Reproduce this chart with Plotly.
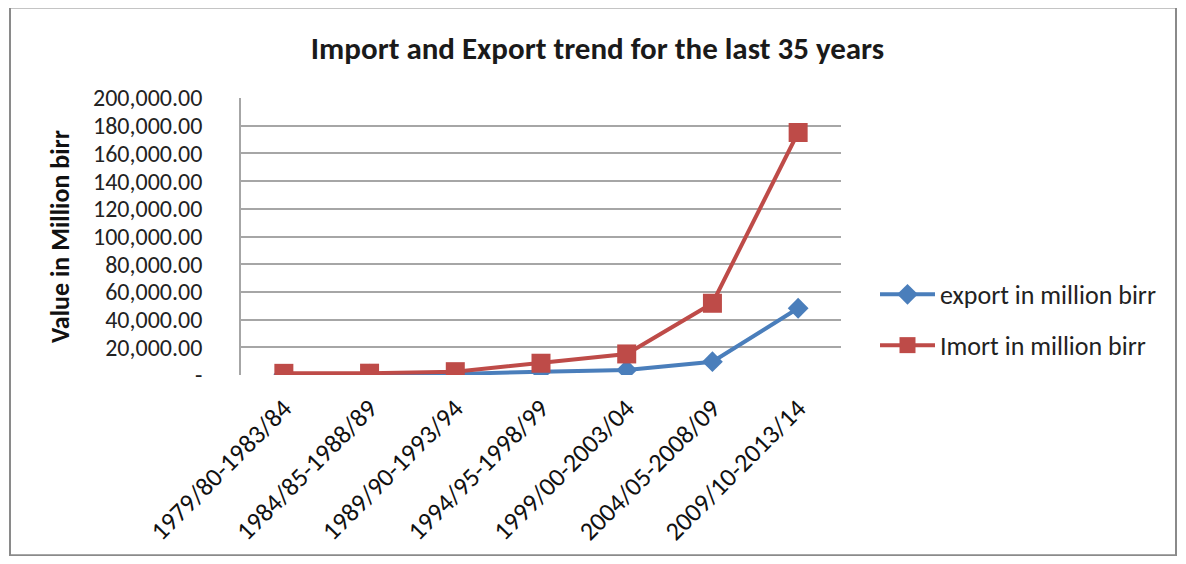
import plotly.graph_objects as go

categories = ["1979/80-1983/84", "1984/85-1988/89", "1989/90-1993/94", "1994/95-1998/99",
              "1999/00-2003/04", "2004/05-2008/09", "2009/10-2013/14"]
export_vals = [500, 600, 800, 2400, 3600, 9600, 48200]
import_vals = [1200, 1300, 2400, 8500, 15200, 51800, 175100]
tick_vals = [0, 20000, 40000, 60000, 80000, 100000, 120000, 140000, 160000, 180000, 200000]
tick_text = ["-", "20,000.00", "40,000.00", "60,000.00", "80,000.00", "100,000.00",
             "120,000.00", "140,000.00", "160,000.00", "180,000.00", "200,000.00"]

FONT = "Calibri, Carlito, Lato, sans-serif"

# page body has an 8px margin; all coordinates below are screen coords minus 8
OFF = 8
W, H = 1170, 548
L, R, T, B = 241 - OFF, 841 - OFF, 98.3 - OFF, 375 - OFF

def px(x):
    return (x - OFF - L) / (R - L)

def py(y):
    return (B - (y - OFF)) / (B - T)

fig = go.Figure()
fig.add_trace(go.Scatter(
    x=list(range(len(categories))), y=export_vals, name="export in million birr",
    legendgroup="e", mode="lines+markers", line=dict(color="#4a7ebb", width=4),
    marker=dict(symbol="diamond", size=16, color="#4a7ebb")))
fig.add_trace(go.Scatter(
    x=list(range(len(categories))), y=import_vals, name="Imort in million birr",
    legendgroup="i", mode="lines+markers", line=dict(color="#be4b48", width=4),
    marker=dict(symbol="square", size=19, color="#be4b48")))

fig.update_layout(
    width=W, height=H,
    margin=dict(l=L, r=W - R, t=T, b=H - B, pad=0, autoexpand=False),
    paper_bgcolor="white", plot_bgcolor="white",
    font=dict(family=FONT, size=26, color="#222"),
    title=dict(text="<b>Import and Export trend for the last 35 years</b>",
               x=(597.5 - OFF) / W, xanchor="center", y=1 - (48 - OFF) / H, yanchor="middle",
               font=dict(size=31, family=FONT, color="#1a1a1a")),
    showlegend=True,
    legend=dict(x=px(875), xanchor="left", y=py(320), yanchor="middle",
                font=dict(size=26, family=FONT, color="#222"),
                tracegroupgap=14, itemwidth=55, bgcolor="rgba(0,0,0,0)"),
    xaxis=dict(tickmode="array", tickvals=list(range(len(categories))), ticktext=categories,
               range=[-0.5, 6.5], tickangle=-45, showgrid=False, zeroline=False,
               showline=False, ticks="", ticklabelstandoff=12,
               tickfont=dict(size=26, family=FONT, color="#111")),
    yaxis=dict(tickmode="array", tickvals=tick_vals, ticktext=tick_text, range=[0, 200000],
               showgrid=True, gridcolor="#a6a6a6", gridwidth=1.6, zeroline=False,
               showline=True, linecolor="#a6a6a6", linewidth=1.6, ticks="",
               ticklabelstandoff=32,
               title=dict(text="<b>Value in Million birr</b>", standoff=16,
                          font=dict(size=26, family=FONT, color="#111")),
               tickfont=dict(size=24, family=FONT, color="#222")),
    shapes=[dict(type="rect", xref="paper", yref="paper",
                 x0=px(10), x1=px(1176), y0=py(555), y1=py(8),
                 line=dict(color="#8a8a8a", width=2), layer="below")],
)

fig.write_html("out.html")
